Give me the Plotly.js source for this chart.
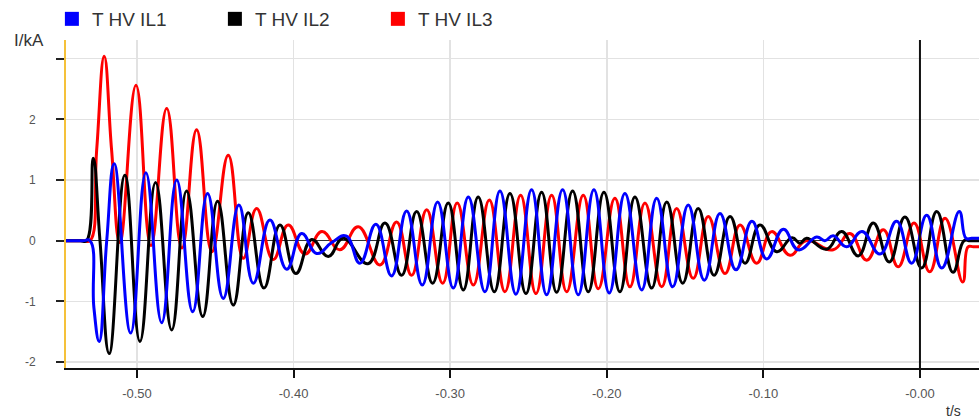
<!DOCTYPE html>
<html>
<head>
<meta charset="utf-8">
<script src="https://cdn.plot.ly/plotly-3.0.1.min.js"></script>
<style>
  html, body { margin: 0; padding: 0; background: #fff; }
  #chart { width: 979px; height: 418px; }
</style>
</head>
<body>
<div id="chart"></div>
<script>
// Series names
const seriesNames = ["T HV IL1", "T HV IL2", "T HV IL3"];
const seriesColors = ["#0000ff", "#000000", "#ff0000"];

// Axis ticks
const xTickVals = [-0.5, -0.4, -0.3, -0.2, -0.1, 0.0];
const xTickText = ["-0.50", "-0.40", "-0.30", "-0.20", "-0.10", "-0.00"];
const yTickVals = [-2, -1, 0, 1, 2, 3];
const yTickText = ["-2", "-1", "0", "1", "2", ""];

// IL1 (blue): turning points, t in s, I in kA
const il1T = [-0.5453, -0.5345, -0.5300, -0.5275, -0.5241, -0.5193, -0.5145, -0.5040, -0.4943, -0.4842, -0.4746, -0.4644, -0.4549,
  -0.4449, -0.4349, -0.4257, -0.4151, -0.4044, -0.3948, -0.3852, -0.3756, -0.3665, -0.3576,
  -0.3474, -0.3374, -0.3278, -0.3178, -0.3080, -0.2980, -0.2884, -0.2778, -0.2682, -0.2580,
  -0.2480, -0.2384, -0.2282, -0.2182, -0.2082, -0.1984, -0.1884, -0.1777, -0.1681, -0.1579,
  -0.1480, -0.1377, -0.1277, -0.1175, -0.1073, -0.0979, -0.0873, -0.0777, -0.0660, -0.0607,
  -0.0554, -0.0468, -0.0370, -0.0255, -0.0149, -0.0053, 0.0043, 0.0139, 0.0251, 0.0294, 0.0330, 0.0377];
const il1V = [0, 0, 0, -1.10, -1.66, 0.00, 1.27, -1.52, 1.12, -1.35, 1.00, -1.17, 0.78,
  -0.95, 0.59, -0.70, 0.34, -0.47, 0.12, -0.21, -0.03, 0.08, -0.37,
  0.27, -0.58, 0.49, -0.73, 0.64, -0.78, 0.72, -0.84, 0.82, -0.88,
  0.84, -0.89, 0.84, -0.89, 0.84, -0.86, 0.78, -0.81, 0.70, -0.76,
  0.59, -0.65, 0.45, -0.48, 0.32, -0.30, 0.19, -0.15, 0.06, 0.00,
  0.08, -0.10, 0.15, -0.22, 0.32, -0.37, 0.42, -0.45, 0.48, 0.04, 0.04, 0.04];

// IL2 (black)
const il2T = [-0.5453, -0.5360, -0.5322, -0.5279, -0.5236, -0.5177, -0.5077, -0.4981, -0.4881, -0.4778, -0.4683, -0.4580,
  -0.4485, -0.4385, -0.4289, -0.4189, -0.4087, -0.3985, -0.3884, -0.3778, -0.3683, -0.3525,
  -0.3416, -0.3310, -0.3214, -0.3112, -0.3012, -0.2916, -0.2821, -0.2718, -0.2618, -0.2516,
  -0.2416, -0.2320, -0.2218, -0.2118, -0.2018, -0.1916, -0.1820, -0.1713, -0.1617, -0.1515,
  -0.1416, -0.1315, -0.1213, -0.1117, -0.1022, -0.0915, -0.0817, -0.0766, -0.0724, -0.0596,
  -0.0500, -0.0394, -0.0298, -0.0196, -0.0096, 0.0011, 0.0107, 0.0211, 0.0281, 0.0320, 0.0377];
const il2V = [0, 0, 0, 1.36, 0.00, -1.86, 1.08, -1.66, 0.96, -1.47, 0.82, -1.25,
  0.65, -1.06, 0.46, -0.78, 0.26, -0.54, 0.02, -0.26, 0.04, -0.38,
  0.29, -0.57, 0.48, -0.70, 0.62, -0.81, 0.72, -0.84, 0.78, -0.87,
  0.80, -0.85, 0.82, -0.84, 0.80, -0.84, 0.72, -0.78, 0.64, -0.70,
  0.53, -0.57, 0.40, -0.37, 0.26, -0.18, 0.05, -0.04, 0.04, -0.14,
  0.15, -0.25, 0.29, -0.35, 0.39, -0.45, 0.48, -0.52, 0.00, 0.00, 0.00];

// IL3 (red)
const il3T = [-0.5453, -0.5340, -0.5300, -0.5257, -0.5209, -0.5162, -0.5109, -0.5006, -0.4911, -0.4810, -0.4713, -0.4619, -0.4521,
  -0.4417, -0.4321, -0.4236, -0.4130, -0.4034, -0.3927, -0.3819, -0.3704, -0.3587, -0.3448,
  -0.3342, -0.3246, -0.3150, -0.3048, -0.2955, -0.2852, -0.2750, -0.2650, -0.2550, -0.2452,
  -0.2352, -0.2256, -0.2150, -0.2054, -0.1948, -0.1852, -0.1756, -0.1649, -0.1554, -0.1448,
  -0.1352, -0.1245, -0.1149, -0.1043, -0.0947, -0.0830, -0.0728, -0.0554, -0.0447, -0.0340,
  -0.0234, -0.0139, -0.0038, 0.0062, 0.0160, 0.0273, 0.0307, 0.0340, 0.0377];
const il3V = [0, 0, 0, 1.50, 3.04, 1.50, -0.03, 2.56, -0.08, 2.18, -0.12, 1.83, -0.18,
  1.41, -0.29, 0.53, -0.31, 0.26, -0.22, 0.15, -0.15, 0.23, -0.40,
  0.31, -0.57, 0.51, -0.70, 0.62, -0.73, 0.67, -0.84, 0.75, -0.87,
  0.75, -0.84, 0.75, -0.79, 0.70, -0.76, 0.62, -0.76, 0.53, -0.62,
  0.40, -0.54, 0.26, -0.37, 0.15, -0.24, 0.00, -0.15, 0.12, -0.32,
  0.18, -0.43, 0.29, -0.51, 0.37, -0.68, -0.10, -0.10, -0.10];

const xs = [il1T, il2T, il3T];
const ys = [il1V, il2V, il3V];

const traces = [];
// draw red first, then black, then blue on top
[2, 1, 0].forEach(i => {
  traces.push({
    x: xs[i], y: ys[i], type: 'scatter', mode: 'lines',
    line: {color: seriesColors[i], width: 3, shape: 'spline', smoothing: 1.3},
    showlegend: false, hoverinfo: 'skip'
  });
});
// legend entries with square symbols
[0, 1, 2].forEach(i => {
  traces.push({
    x: [null], y: [null], type: 'scatter', mode: 'markers',
    name: seriesNames[i],
    marker: {symbol: 'square', size: 14, color: seriesColors[i]},
    showlegend: true
  });
});

const layout = {
  width: 979, height: 418,
  margin: {l: 66, r: 0, t: 40, b: 50, pad: 0},
  paper_bgcolor: '#ffffff', plot_bgcolor: '#ffffff',
  font: {family: 'Liberation Sans, Arial, sans-serif', color: '#444'},
  showlegend: true,
  legend: {
    orientation: 'h', xref: 'container', yref: 'container',
    x: 0.053, y: 1.0, xanchor: 'left', yanchor: 'top',
    font: {size: 19, color: '#333', family: 'Liberation Sans, Arial, sans-serif'},
    entrywidth: 118, entrywidthmode: 'pixels',
    bgcolor: 'rgba(0,0,0,0)', borderwidth: 0
  },
  xaxis: {
    range: [-0.5453, 0.0377], autorange: false,
    tickvals: xTickVals, ticktext: xTickText,
    ticks: 'outside', ticklen: 8, tickwidth: 2, tickcolor: '#111',
    tickfont: {size: 13, color: '#555'}, ticklabelstandoff: 4,
    showgrid: true, gridcolor: '#e2e2e2', gridwidth: 1.5,
    showline: true, linecolor: '#111', linewidth: 2,
    zeroline: false, fixedrange: true
  },
  yaxis: {
    range: [-2.097, 3.307], autorange: false,
    tickvals: yTickVals, ticktext: yTickText,
    ticks: 'outside', ticklen: 8, tickwidth: 2, tickcolor: '#222',
    tickfont: {size: 12, color: '#555'}, ticklabelstandoff: 18,
    showgrid: true, gridcolor: '#e2e2e2', gridwidth: 1.5,
    showline: true, linecolor: '#f5c13a', linewidth: 2,
    zeroline: true, zerolinecolor: '#333', zerolinewidth: 1,
    fixedrange: true
  },
  shapes: [
    {type: 'line', xref: 'x', yref: 'paper', x0: 0, x1: 0, y0: 0, y1: 1,
     line: {color: '#111', width: 2}, layer: 'above'}
  ],
  annotations: [
    {text: 'I/kA', xref: 'paper', yref: 'paper', x: -0.0405, y: 1.0, xanchor: 'center', yanchor: 'middle',
     showarrow: false, font: {size: 17, color: '#333'}},
    {text: 't/s', xref: 'paper', yref: 'paper', x: 0.972, y: -0.13, xanchor: 'center', yanchor: 'middle',
     showarrow: false, font: {size: 14, color: '#333'}}
  ]
};

Plotly.newPlot('chart', traces, layout, {staticPlot: true, displayModeBar: false});
</script>
</body>
</html>
